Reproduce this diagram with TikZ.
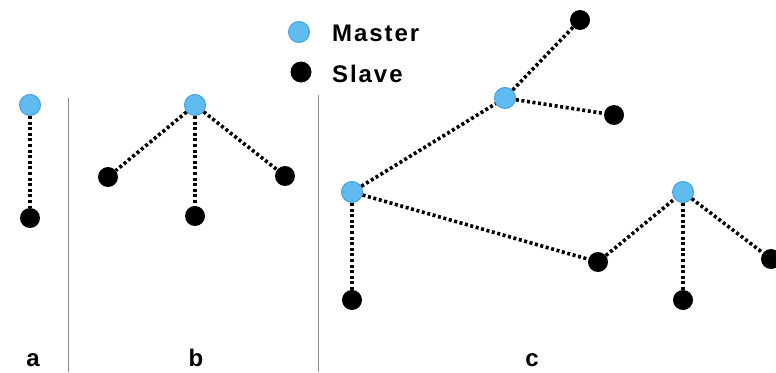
\documentclass[tikz,border=0pt]{standalone}
\usepackage{fontspec}
\setmainfont{Liberation Sans}
\definecolor{masterblue}{RGB}{96,188,240}
\definecolor{masteredge}{RGB}{70,160,225}
\begin{document}
\begin{tikzpicture}[x=1pt,y=-1pt,
  master/.style={circle,fill=masterblue,draw=masteredge,line width=1pt,minimum size=21pt,inner sep=0pt},
  slave/.style={circle,fill=black,minimum size=20pt,inner sep=0pt},
  link/.style={line width=3.6pt,dash pattern=on 3pt off 2.6pt,black},
  divider/.style={line width=1pt,black!45},
  caption/.style={font=\bfseries\fontsize{24}{24}\selectfont,inner sep=0pt,anchor=base},
  legendtext/.style={font=\bfseries\fontsize{24}{24}\selectfont\addfontfeature{LetterSpace=8},anchor=west,inner sep=0pt}]
\useasboundingbox (0,0) rectangle (776,372);

% section dividers
\draw[divider] (68,98) -- (68,372);
\draw[divider] (318,95) -- (318,372);

% legend
\node[master,minimum size=21pt] (legm) at (299,32) {};
\node[legendtext] (legmt) at (332,33) {Master};
\node[slave,minimum size=21pt] (legs) at (301,72) {};
\node[legendtext] (legst) at (332,74) {Slave};

% a: one master, one slave
\node[master] (am) at (30,105) {};
\node[slave] (as) at (30,218) {};
\draw[link] (am) -- (as);

% b: one master, three slaves
\node[master] (bm) at (195,105) {};
\node[slave] (bs1) at (108,177) {};
\node[slave] (bs2) at (195,216) {};
\node[slave] (bs3) at (285,176) {};
\foreach \s in {bs1,bs2,bs3} \draw[link] (bm) -- (\s);

% c: scatternet of three piconets
\node[master] (cm1) at (352,192) {};
\node[master] (cm2) at (505,98) {};
\node[master] (cm3) at (683,192) {};
\node[slave] (cs1) at (352,300) {};
\node[slave] (cs2) at (580,20) {};
\node[slave] (cs3) at (614,115) {};
\node[slave] (cb) at (598,262) {};
\node[slave] (cs4) at (683,300) {};
\node[slave] (cs5) at (771,259) {};
\draw[link] (cm1) -- (cs1);
\draw[link] (cm1) -- (cm2);
\draw[link] (cm2) -- (cs2);
\draw[link] (cm2) -- (cs3);
\draw[link] (cm1) -- (cb);
\draw[link] (cb) -- (cm3);
\draw[link] (cm3) -- (cs4);
\draw[link] (cm3) -- (cs5);

% captions
\node[caption] (la) at (33,366) {a};
\node[caption] (lb) at (196,366) {b};
\node[caption] (lc) at (532,366) {c};
\end{tikzpicture}
\end{document}
